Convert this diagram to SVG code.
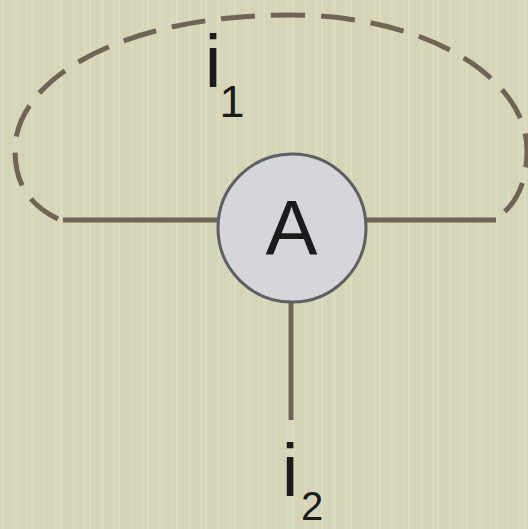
<svg xmlns="http://www.w3.org/2000/svg" width="528" height="529" viewBox="0 0 528 529">
  <defs>
    <pattern id="stripes" width="29" height="529" patternUnits="userSpaceOnUse">
      <rect x="2" y="0" width="2" height="529" fill="#ecebd8" opacity="0.3"/>
      <rect x="9" y="0" width="1" height="529" fill="#c5c4a6" opacity="0.25"/>
      <rect x="14" y="0" width="3" height="529" fill="#e6e5cf" opacity="0.25"/>
      <rect x="22" y="0" width="1" height="529" fill="#c8c7aa" opacity="0.25"/>
      <rect x="26" y="0" width="2" height="529" fill="#eae9d4" opacity="0.2"/>
    </pattern>
  </defs>
  <style>
    .wire { stroke: #6f6456; stroke-width: 5; fill: none; stroke-linecap: butt; }
    .loop { stroke: #6f6456; stroke-width: 5; fill: none; stroke-dasharray: 34 16; stroke-linecap: butt; }
    .lbl { font-family: "Liberation Sans", Arial, sans-serif; fill: #1c1a1a; }
  </style>
  <rect width="528" height="529" fill="#d6d5b8"/>
  <rect width="528" height="529" fill="url(#stripes)"/>
  <g id="connectors">
    <path class="loop" d="M 58 219 C 30 205, 15 185, 15 150 C 15 80, 120 15, 290 15 C 430 15, 527 80, 527 150 C 527 185, 515 205, 497 218"/>
    <line class="wire" x1="63" y1="220" x2="218" y2="220"/>
    <line class="wire" x1="366" y1="220" x2="496" y2="220"/>
    <line class="wire" x1="291" y1="302" x2="291" y2="420"/>
  </g>
  <g id="nodeA">
    <circle cx="292" cy="228" r="74" fill="#d5d6db" stroke="#5c5f63" stroke-width="3"/>
    <text class="lbl" x="291.5" y="255" font-size="78" text-anchor="middle">A</text>
  </g>
  <g id="label-i1">
    <text class="lbl" x="213" y="87" font-size="75" text-anchor="middle">i</text>
    <text class="lbl" x="232" y="117" font-size="45" text-anchor="middle">1</text>
  </g>
  <g id="label-i2">
    <text class="lbl" x="290" y="496" font-size="75" text-anchor="middle">i</text>
    <text class="lbl" x="312" y="520" font-size="40" text-anchor="middle">2</text>
  </g>
</svg>
